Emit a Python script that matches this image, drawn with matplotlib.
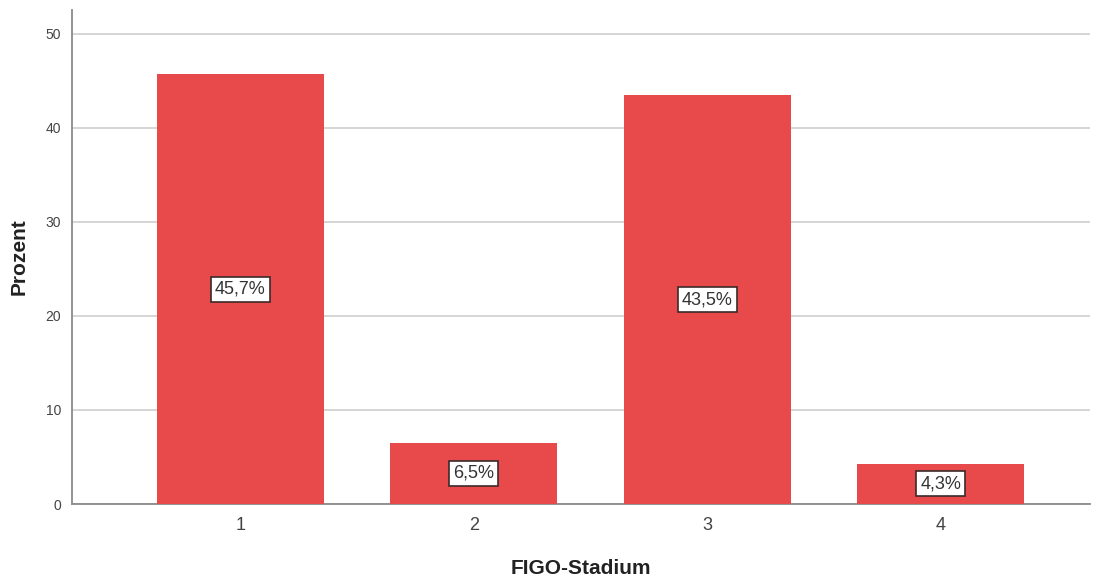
import numpy as np
import matplotlib.pyplot as plt

plt.rcParams['font.family'] = ['Liberation Sans', 'DejaVu Sans']

# FIGO-Stadium Verteilung (Prozent)
stadien = ['1', '2', '3', '4']
prozent = [45.7, 6.5, 43.5, 4.3]
labels = ['45,7%', '6,5%', '43,5%', '4,3%']

bar_color = '#e84a4c'
grid_color = '#d2d2d2'
axis_color = '#8a8a8a'

fig = plt.figure(figsize=(11, 5.77), dpi=100)
ax = fig.add_axes([0.0655, 0.1265, 0.9255, 0.8562])

x = np.arange(1, len(stadien) + 1)
ax.bar(x, prozent, width=0.715, color=bar_color, zorder=3)

# Beschriftung in der Mitte jedes Balkens
for xi, val, lab in zip(x, prozent, labels):
    ax.text(xi, val / 2, lab, ha='center', va='center', fontsize=13, color='#333333', zorder=4,
            bbox=dict(boxstyle='square,pad=0.22', facecolor='white', edgecolor='#3a2a2a', linewidth=1.2))

ax.set_xlim(0.28, 4.64)
ax.set_ylim(0, 52.55)
ax.set_yticks([0, 10, 20, 30, 40, 50])
ax.set_xticks(x)
ax.set_xticklabels(stadien)

ax.yaxis.grid(True, color=grid_color, linewidth=1.3, zorder=0)
ax.tick_params(axis='y', length=0, labelsize=10, labelcolor='#444444', pad=8)
ax.tick_params(axis='x', length=0, labelsize=13, labelcolor='#444444', pad=9)

for side in ['top', 'right']:
    ax.spines[side].set_visible(False)
ax.spines['left'].set_color(axis_color)
ax.spines['bottom'].set_color(axis_color)
ax.spines['left'].set_linewidth(1.3)
ax.spines['bottom'].set_linewidth(1.3)

ax.set_xlabel('FIGO-Stadium', fontsize=15, fontweight='bold', color='#222222', labelpad=18)
ax.set_ylabel('Prozent', fontsize=15, fontweight='bold', color='#222222', labelpad=12)

fig.savefig('out.png', dpi=100)
